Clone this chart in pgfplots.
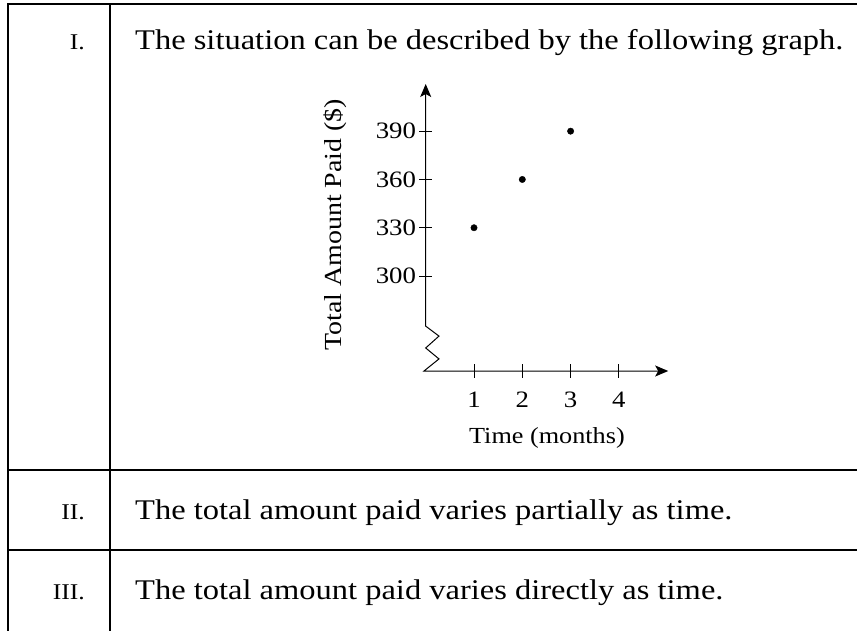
\documentclass[border=0pt]{standalone}
\usepackage{pgfplots}
\pgfplotsset{compat=1.18}
\usepackage{fontspec}
\setmainfont{Liberation Serif}[FakeStretch=1.14]
\usetikzlibrary{arrows.meta}

\begin{document}
\begin{tikzpicture}
\useasboundingbox (0pt,0pt) rectangle (857pt,630pt);
% table rules
\begin{scope}[line width=1.5pt, line cap=rect]
\draw (857pt,626pt) -- (8pt,626pt) -- (8pt,-2pt);
\draw (110pt,626pt) -- (110pt,-2pt);
\draw (8pt,160pt) -- (857pt,160pt);
\draw (8pt,80pt) -- (857pt,80pt);
\end{scope}
% row labels
\begin{scope}[every node/.style={inner sep=0pt, font=\fontsize{22.5}{27}\selectfont}]
\node[anchor=base east] at (85pt,580pt) {I.};
\node[anchor=base east] at (85pt,111pt) {II.};
\node[anchor=base east] at (85pt,31pt) {III.};
\end{scope}
% row texts
\begin{scope}[every node/.style={inner sep=0pt, font=\fontsize{28.5}{34}\selectfont}]
\node[anchor=base west] at (135pt,580pt) {The situation can be described by the following graph.};
\node[anchor=base west] at (135pt,111pt) {The total amount paid varies partially as time.};
\node[anchor=base west] at (135pt,31pt) {The total amount paid varies directly as time.};
\end{scope}

\begin{axis}[
  at={(425.7pt,259pt)}, anchor=south west,
  scale only axis, width=242.5pt, height=287pt,
  xmin=0, xmax=5.02, ymin=241, ymax=419.3,
  clip=false,
  axis x line=bottom, axis y line=left,
  axis line style={draw=none},
  xtick={1,2,3,4}, ytick={300,330,360,390},
  tick align=center, major tick length=13pt,
  tick style={black, line width=1pt},
  /pgf/number format/assume math mode=true,
  ticklabel style={font=\fontsize{23.5}{27}\selectfont},
  xticklabel style={anchor=base, inner sep=0pt, yshift=-29.5pt},
  yticklabel style={anchor=east, inner sep=0pt, xshift=-3pt},
  xlabel={Time (months)},
  xlabel style={at={(axis description cs:0.5,0)}, anchor=base, inner sep=0pt, yshift=-72pt, font=\fontsize{23}{27}\selectfont},
  ylabel={Total Amount Paid (\$)},
  ylabel style={at={(axis description cs:-0.374,0.509)}, anchor=center, inner sep=0pt, font=\fontsize{24.5}{29}\selectfont},
]
\draw[line width=1pt, {Stealth[length=13pt,width=11pt,inset=3pt]}-{Stealth[length=13pt,width=11pt,inset=3pt]}]
  (axis cs:0,419.3) -- (axis cs:0,268.9) -- (axis cs:0.275,262.7) -- (axis cs:0,255.3)
  -- (axis cs:0.275,248.5) -- (axis cs:-0.035,241) -- (axis cs:5.02,241);
\addplot[only marks, mark=*, mark size=3.2pt, black] coordinates {(1,330) (2,360) (3,390)};
\end{axis}
\end{tikzpicture}
\end{document}
